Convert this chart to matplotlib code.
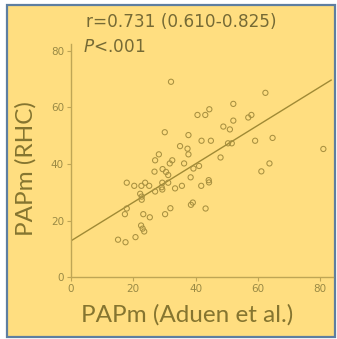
import matplotlib
matplotlib.use("Agg")
import matplotlib.pyplot as plt
from matplotlib.patches import Rectangle
import numpy as np

# values
papm_aduen = [
    15.1, 17.5, 20.7, 22.5, 23.0, 23.5,
    17.3, 17.9, 23.2, 25.3, 30.2, 31.9,
    22.2, 22.7, 22.7, 27.0, 29.1, 29.3, 33.4,
    17.9, 20.3, 22.6, 23.8, 25.1, 29.3, 31.2,
    35.6, 41.8, 38.4, 44.2, 44.3,
    38.5, 39.1, 43.2,
    26.8, 29.4, 30.5, 31.2,
    27.0, 28.2, 31.7, 32.5, 36.3, 39.3, 41.1,
    35.0, 37.4, 37.7, 37.7, 30.1,
    41.9, 44.9, 48.0, 50.4, 51.6,
    48.9, 51.0, 52.1, 56.9, 57.9,
    40.6, 43.1, 44.4, 52.1,
    32.1, 62.4,
    59.1, 64.7, 81.0, 61.1, 63.7,
]
papm_rhc = [
    13.3, 12.4, 14.2, 18.3, 17.2, 16.2,
    22.3, 24.3, 22.3, 21.2, 22.3, 24.4,
    29.5, 28.5, 27.4, 30.3, 31.8, 31.0, 31.4,
    33.4, 32.3, 32.3, 33.4, 32.3, 33.4, 33.4,
    32.3, 32.3, 35.3, 34.3, 33.5,
    25.6, 26.4, 24.3,
    37.3, 38.2, 37.2, 36.1,
    41.3, 43.4, 40.2, 41.3, 40.2, 38.4, 39.3,
    46.3, 45.4, 43.4, 50.2, 51.2,
    48.2, 48.2, 42.3, 47.3, 47.3,
    53.2, 52.2, 55.3, 56.4, 57.3,
    57.3, 57.3, 59.3, 61.2,
    69.0, 65.1,
    48.2, 49.2, 45.3, 37.4, 40.2,
]
fit_intercept = 12.9
fit_slope = 0.679
fit_x_end = 83.5
tick_values = [0, 20, 40, 60, 80]

bg = "#FFDE80"
text_col = "#857530"
axis_col = "#BFA655"
mark_col = "#A89040"

fig = plt.figure(figsize=(3.37, 3.39), dpi=100)
fig.patch.set_facecolor("white")
fig.patches.append(Rectangle((7 / 337, 2 / 339), 328 / 337, 332 / 339,
                             transform=fig.transFigure, facecolor=bg,
                             edgecolor="#5E7EA0", linewidth=1.6, zorder=-1))

ax = fig.add_axes([71 / 337, 61.6 / 339, 261.7 / 337, 233.9 / 339])
ax.set_facecolor("none")
ax.scatter(papm_aduen, papm_rhc, s=14, facecolors="none", edgecolors=mark_col,
           linewidths=0.75, zorder=3)
fx = np.array([0, fit_x_end])
ax.plot(fx, fit_intercept + fit_slope * fx, color="#A08A35", linewidth=1.0, zorder=2)

ax.set_xlim(0, 84)
ax.set_ylim(0, 82.5)
ax.set_xticks(tick_values)
ax.set_yticks(tick_values)
for side in ("top", "right"):
    ax.spines[side].set_visible(False)
for side in ("left", "bottom"):
    ax.spines[side].set_color(axis_col)
    ax.spines[side].set_linewidth(1.0)
ax.tick_params(colors=axis_col, length=3, width=0.8, pad=2,
               labelsize=7.5, labelcolor="#9A8A45")

# axis titles placed by pixel position of the reference
fig.text(187 / 337, 1 - 315 / 339, "PAPm (Aduen et al.)", family="Lato",
         fontsize=17.5, color=text_col, ha="center", va="center")
fig.text(26 / 337, 1 - 169 / 339, "PAPm (RHC)", family="Lato", rotation=90,
         fontsize=17.5, color=text_col, ha="center", va="center")

fig.text(86 / 337, 1 - 21.7 / 339, "r=0.731 (0.610-0.825)", fontsize=12.2,
         color="#756A35", va="center", ha="left")
fig.text(83 / 337, 1 - 47 / 339, "$\\it{P}$<.001", fontsize=12.2,
         color="#756A35", va="center", ha="left")

fig.savefig("out.png", dpi=100, facecolor=fig.get_facecolor())
